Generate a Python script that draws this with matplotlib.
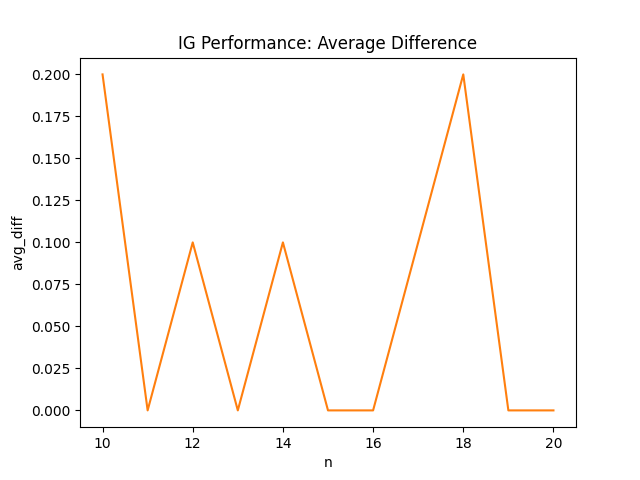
import matplotlib
matplotlib.use("Agg")
import matplotlib.pyplot as plt

n = [10, 11, 12, 13, 14, 15, 16, 17, 18, 19, 20]
avg_diff = [0.2, 0.0, 0.1, 0.0, 0.1, 0.0, 0.0, 0.1, 0.2, 0.0, 0.0]

fig, ax = plt.subplots(figsize=(6.4, 4.8), dpi=100)
ax.plot(n, avg_diff, color="#ff7f0e")
ax.set_title("IG Performance: Average Difference")
ax.set_xlabel("n")
ax.set_ylabel("avg_diff")
fig.savefig("out.png")
